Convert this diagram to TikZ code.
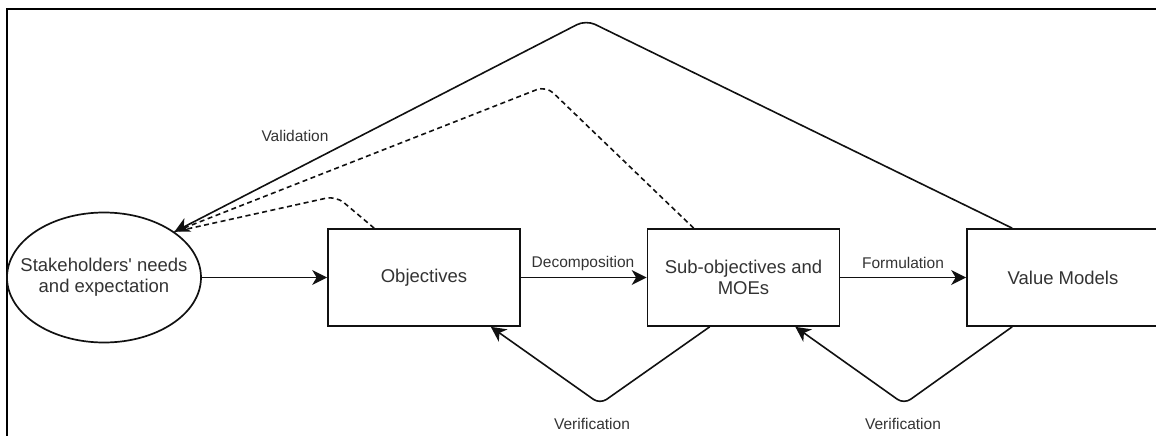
\documentclass[tikz,border=0pt]{standalone}
\usepackage{fontspec}
\setmainfont{Liberation Sans}[Ligatures=TeXOff]
\usetikzlibrary{shapes.geometric,arrows.meta,calc}
\definecolor{txt}{HTML}{333333}
\definecolor{ln}{HTML}{111111}
\begin{document}
\begin{tikzpicture}[x=1pt,y=-1pt,
  stage/.style={draw=ln, line width=1.7pt, minimum width=192pt, minimum height=97pt,
    inner sep=0pt, text=txt, font=\fontsize{18.5}{21}\selectfont, align=center},
  oval/.style={ellipse, draw=ln, line width=1.7pt, minimum width=194pt, minimum height=130pt,
    inner sep=0pt},
  ovaltext/.style={text=txt, font=\fontsize{18.5}{21}\selectfont, align=center, inner sep=0pt},
  lab/.style={text=txt, font=\fontsize{15.5}{18}\selectfont, inner sep=0pt},
  conn/.style={draw=ln, line width=1.6pt,
    -{Stealth[length=15pt,width=15pt,inset=4.5pt]}},
  dline/.style={draw=ln, line width=1.6pt, dash pattern=on 5pt off 3.5pt},
]
\useasboundingbox (0,0) rectangle (1156,436);

% outer frame (top and left edges)
\draw[line width=2.6pt, line join=miter] (1170,9) -- (7,9) -- (7,450);

% main elements
\node[oval]  (st)  at (104,277.5) {};
\node[ovaltext] (sttext) at (st.center) {Stakeholders' needs\\and expectation};
\node[stage] (obj) at (424,277.5) {Objectives};
\node[stage] (sub) at (743.5,277.5) {Sub-objectives and\\MOEs};
\node[stage] (val) at (1063,277.5) {Value Models};

% bend points
\coordinate (pkA) at (586,20);
\coordinate (pkB) at (546,86);
\coordinate (pkC) at (336,196);
\coordinate (vA) at (600,404);
\coordinate (vB) at (904,404);

% forward flow
\draw[conn] (st.east) -- (obj.west);
\draw[conn] (obj.east) -- (sub.west);
\draw[conn] (sub.east) -- (val.west);
\node[lab] (ldec) at (583,263) {Decomposition};
\node[lab] (lfor) at (903,263) {Formulation};

% verification loops
\draw[conn, rounded corners=8pt] ([xshift=63pt]sub.south west) -- (vA) -- ([xshift=-30pt]obj.south east);
\draw[conn, rounded corners=8pt] ([xshift=46pt]val.south west) -- (vB) -- ([xshift=-45pt]sub.south east);
\node[lab] (lver1) at (592,424) {Verification};
\node[lab] (lver2) at (903,424) {Verification};

% validation back to stakeholders
\draw[dline, rounded corners=10pt] ([xshift=47pt]obj.north west) -- (pkC) -- (st.33);
\draw[dline, rounded corners=10pt] ([xshift=47pt]sub.north west) -- (pkB) -- (st.33);
\draw[conn, rounded corners=10pt] ([xshift=46pt]val.north west) -- (pkA) -- (st.33);
\node[lab] (lval) at (295,136) {Validation};
\end{tikzpicture}
\end{document}
